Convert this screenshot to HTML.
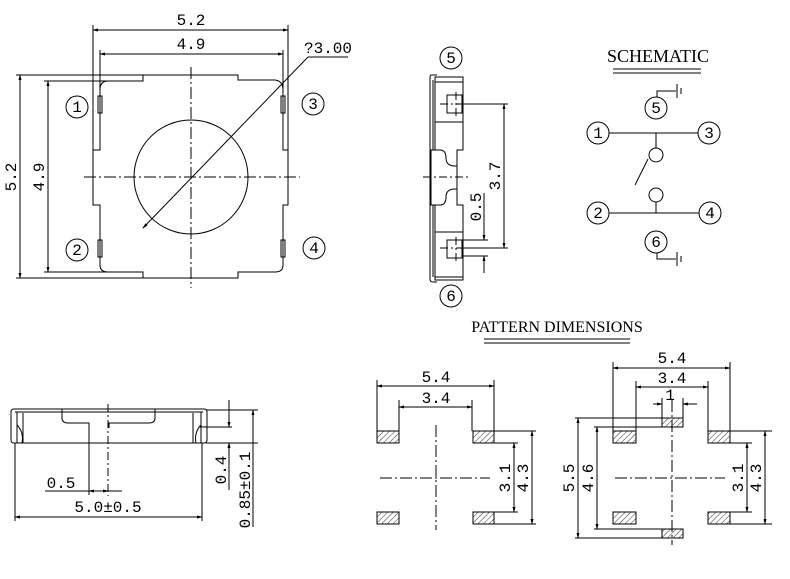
<!DOCTYPE html>
<html><head><meta charset="utf-8"><style>
html,body{margin:0;padding:0;background:#fff;}
svg{display:block;}
text{font-family:"Liberation Mono",monospace;font-size:16px;fill:#000;}
.t{font-family:"Liberation Serif",serif;font-size:15px;}
</style></head><body>
<svg width="790" height="579" viewBox="0 0 790 579" xmlns="http://www.w3.org/2000/svg">
<defs>
<pattern id="h" width="4" height="4" patternUnits="userSpaceOnUse" patternTransform="rotate(45)">
<line x1="0" y1="0" x2="0" y2="4" stroke="#000" stroke-width="0.8"/></pattern>
<marker id="a" markerWidth="6" markerHeight="4" refX="5" refY="2" orient="auto-start-reverse" markerUnits="userSpaceOnUse">
<path d="M0,0.5 L6,2 L0,3.5z" fill="#000"/></marker>
</defs>
<g fill="none" stroke="#000" stroke-width="1">
<path d="M143,75 H238 V80 H275 Q283,81 283,90 V150 H288 V205 H283 V265 Q283,272 275,272 H238 V278 H143 V272 H108 Q100,272 100,265 V205 H93 V150 H100 V90 Q100,81 108,81 H143 Z"/>
<rect x="98" y="96" width="4" height="17"/><rect x="281" y="96" width="4" height="17"/>
<rect x="98" y="240" width="4" height="17"/><rect x="281" y="240" width="4" height="17"/>
<circle cx="191" cy="177" r="57"/>
<g stroke-dasharray="12,3,2,3"><line x1="84" y1="177" x2="300" y2="177"/><line x1="191" y1="67" x2="191" y2="288"/></g>
<line x1="143" y1="228" x2="308" y2="57" marker-start="url(#a)"/><line x1="308" y1="57" x2="348" y2="57"/>
<line x1="93" y1="25" x2="93" y2="150"/><line x1="288" y1="25" x2="288" y2="150"/>
<line x1="93" y1="30" x2="288" y2="30" marker-start="url(#a)" marker-end="url(#a)"/>
<line x1="100" y1="50" x2="100" y2="150"/><line x1="283" y1="50" x2="283" y2="90"/>
<line x1="100" y1="54" x2="283" y2="54" marker-start="url(#a)" marker-end="url(#a)"/>
<line x1="16" y1="75" x2="143" y2="75"/><line x1="16" y1="278" x2="143" y2="278"/>
<line x1="20" y1="75" x2="20" y2="278" marker-start="url(#a)" marker-end="url(#a)"/>
<line x1="44" y1="81" x2="110" y2="81"/><line x1="44" y1="272" x2="110" y2="272"/>
<line x1="48" y1="81" x2="48" y2="272" marker-start="url(#a)" marker-end="url(#a)"/>
<circle cx="77" cy="107" r="11"/><circle cx="313" cy="104" r="11"/>
<circle cx="77" cy="250" r="11"/><circle cx="314" cy="248" r="11"/>
<path d="M437,75 H431 Q430,75 430,78 V279 Q430,282 433,282 H437"/>
<path d="M435,77 H463 V150 H457 V205 H463 V280 H435 Z"/>
<line x1="433" y1="80" x2="433" y2="277"/>
<line x1="435" y1="82" x2="463" y2="82"/><line x1="435" y1="122" x2="463" y2="122"/>
<line x1="435" y1="232" x2="463" y2="232"/><line x1="435" y1="277" x2="463" y2="277"/>
<path d="M431,150 H440 Q446,150 446,158 Q446,166 455,166 H457 V189 H455 Q446,189 446,197 Q446,205 440,205 H431 Z" fill="#fff"/>
<rect x="447" y="95" width="15" height="18"/><rect x="447" y="240" width="15" height="18"/>
<g stroke-dasharray="8,3,2,3"><line x1="423" y1="177" x2="470" y2="177"/><line x1="440" y1="104" x2="471" y2="104"/><line x1="440" y1="248" x2="471" y2="248"/><line x1="456" y1="92" x2="456" y2="116"/><line x1="456" y1="237" x2="456" y2="261"/></g>
<line x1="462" y1="104" x2="508" y2="104"/><line x1="462" y1="248" x2="508" y2="248"/>
<line x1="504" y1="104" x2="504" y2="248" marker-start="url(#a)" marker-end="url(#a)"/>
<line x1="462" y1="240" x2="488" y2="240"/><line x1="462" y1="256" x2="488" y2="256"/>
<line x1="484" y1="193" x2="484" y2="240" marker-end="url(#a)"/><line x1="484" y1="273" x2="484" y2="256" marker-end="url(#a)"/>
<circle cx="451" cy="58" r="11"/><circle cx="451" cy="296" r="11"/>
<line x1="613" y1="69" x2="701" y2="69"/><line x1="613" y1="73" x2="701" y2="73"/>
<circle cx="656" cy="108" r="11"/><path d="M657,97 V91 H676"/><line x1="677" y1="84" x2="677" y2="98"/><line x1="681" y1="88" x2="681" y2="94"/>
<circle cx="598" cy="133" r="11"/><circle cx="709" cy="133" r="11"/>
<line x1="609" y1="133" x2="698" y2="133"/><line x1="656" y1="133" x2="656" y2="148"/>
<circle cx="656" cy="155" r="7"/><line x1="648" y1="159" x2="635" y2="185"/>
<circle cx="656" cy="195" r="7"/><line x1="656" y1="202" x2="656" y2="213"/>
<line x1="609" y1="213" x2="699" y2="213"/>
<circle cx="598" cy="213" r="11"/><circle cx="710" cy="213" r="11"/>
<circle cx="656" cy="242" r="11"/><path d="M657,253 V259 H676"/><line x1="677" y1="252" x2="677" y2="266"/><line x1="681" y1="256" x2="681" y2="262"/>
<path d="M14,409 H204 Q207,409 207,412 V440 Q207,443 204,443 H14 Q11,443 11,440 V412 Q11,409 14,409 Z"/>
<line x1="15" y1="412" x2="203" y2="412"/><line x1="17" y1="443" x2="17" y2="412"/><line x1="201" y1="443" x2="201" y2="412"/>
<line x1="23" y1="413" x2="23" y2="443"/><line x1="193" y1="413" x2="193" y2="443"/>
<path d="M17,425 Q24,432 22,443"/><path d="M201,425 Q194,432 196,443"/>
<path d="M62,409 V418 Q62,423 68,423 H89 V495"/><path d="M155,409 V418 Q155,423 149,423 H109 V428"/>
<line x1="108" y1="404" x2="108" y2="496" stroke-dasharray="8,3,2,3"/>
<line x1="45" y1="491" x2="89" y2="491"/><line x1="89" y1="491" x2="122" y2="491" marker-start="url(#a)"/><line x1="108" y1="491" x2="89" y2="491" marker-start="url(#a)"/>
<line x1="15" y1="443" x2="15" y2="521"/><line x1="202" y1="443" x2="202" y2="521"/>
<line x1="15" y1="517" x2="202" y2="517" marker-start="url(#a)" marker-end="url(#a)"/>
<line x1="206" y1="410" x2="258" y2="410"/><line x1="200" y1="427" x2="232" y2="427"/><line x1="206" y1="443" x2="258" y2="443"/>
<line x1="229" y1="400" x2="229" y2="427" marker-end="url(#a)"/><line x1="229" y1="490" x2="229" y2="443" marker-end="url(#a)"/>
<line x1="253" y1="410" x2="253" y2="527" marker-start="url(#a)"/>
<line x1="484" y1="339" x2="630" y2="339"/><line x1="484" y1="343" x2="630" y2="343"/>
<g fill="url(#h)">
<rect x="377" y="431" width="22" height="12"/><rect x="473" y="431" width="21" height="12"/>
<rect x="377" y="512" width="22" height="12"/><rect x="473" y="512" width="21" height="12"/>
<rect x="613" y="431" width="23" height="12"/><rect x="708" y="431" width="22" height="12"/>
<rect x="613" y="512" width="23" height="12"/><rect x="708" y="512" width="22" height="12"/>
<rect x="662" y="418" width="21" height="9"/><rect x="662" y="529" width="21" height="9"/>
</g>
<g stroke-dasharray="12,3,2,3"><line x1="436" y1="425" x2="436" y2="530"/><line x1="380" y1="478" x2="490" y2="478"/><line x1="672" y1="400" x2="672" y2="545"/><line x1="615" y1="478" x2="725" y2="478"/></g>
<line x1="377" y1="380" x2="377" y2="431"/><line x1="494" y1="380" x2="494" y2="431"/>
<line x1="377" y1="386" x2="494" y2="386" marker-start="url(#a)" marker-end="url(#a)"/>
<line x1="399" y1="400" x2="399" y2="431"/><line x1="472" y1="400" x2="472" y2="431"/>
<line x1="399" y1="407" x2="472" y2="407" marker-start="url(#a)" marker-end="url(#a)"/>
<line x1="494" y1="431" x2="536" y2="431"/><line x1="494" y1="443" x2="518" y2="443"/><line x1="494" y1="512" x2="518" y2="512"/><line x1="494" y1="524" x2="536" y2="524"/>
<line x1="514" y1="443" x2="514" y2="512" marker-start="url(#a)" marker-end="url(#a)"/>
<line x1="532" y1="431" x2="532" y2="524" marker-start="url(#a)" marker-end="url(#a)"/>
<line x1="613" y1="362" x2="613" y2="431"/><line x1="730" y1="362" x2="730" y2="431"/>
<line x1="613" y1="368" x2="730" y2="368" marker-start="url(#a)" marker-end="url(#a)"/>
<line x1="636" y1="381" x2="636" y2="431"/><line x1="708" y1="381" x2="708" y2="431"/>
<line x1="636" y1="387" x2="708" y2="387" marker-start="url(#a)" marker-end="url(#a)"/>
<line x1="662" y1="398" x2="662" y2="418"/><line x1="683" y1="398" x2="683" y2="418"/>
<line x1="653" y1="404" x2="662" y2="404" marker-end="url(#a)"/><line x1="697" y1="404" x2="683" y2="404" marker-end="url(#a)"/>
<line x1="575" y1="418" x2="662" y2="418"/><line x1="575" y1="538" x2="662" y2="538"/>
<line x1="578" y1="418" x2="578" y2="538" marker-start="url(#a)" marker-end="url(#a)"/>
<line x1="594" y1="427" x2="662" y2="427"/><line x1="594" y1="529" x2="662" y2="529"/>
<line x1="597" y1="427" x2="597" y2="529" marker-start="url(#a)" marker-end="url(#a)"/>
<line x1="730" y1="431" x2="772" y2="431"/><line x1="730" y1="443" x2="752" y2="443"/><line x1="730" y1="512" x2="752" y2="512"/><line x1="730" y1="524" x2="772" y2="524"/>
<line x1="747" y1="443" x2="747" y2="512" marker-start="url(#a)" marker-end="url(#a)"/>
<line x1="765" y1="431" x2="765" y2="524" marker-start="url(#a)" marker-end="url(#a)"/>
</g>
<g text-anchor="middle">
<text x="191" y="25">5.2</text><text x="191" y="49">4.9</text>
<text x="328" y="53">?3.00</text>
<text transform="translate(16,177) rotate(-90)">5.2</text>
<text transform="translate(44,177) rotate(-90)">4.9</text>
<text x="77" y="112">1</text><text x="313" y="109">3</text><text x="77" y="255">2</text><text x="314" y="253">4</text>
<text x="451" y="63">5</text><text x="451" y="301">6</text>
<text transform="translate(500,176) rotate(-90)">3.7</text>
<text transform="translate(481,207) rotate(-90)">0.5</text>
<text class="t" x="658" y="62" style="font-size:18px">SCHEMATIC</text>
<text x="656" y="113">5</text><text x="598" y="138">1</text><text x="709" y="138">3</text>
<text x="598" y="218">2</text><text x="710" y="218">4</text><text x="656" y="247">6</text>
<text x="61" y="488">0.5</text><text x="108" y="512">5.0±0.5</text>
<text transform="translate(226,470) rotate(-90)">0.4</text>
<text transform="translate(250,490) rotate(-90)">0.85±0.1</text>
<text class="t" x="557" y="332" style="font-size:16px">PATTERN DIMENSIONS</text>
<text x="436" y="382">5.4</text><text x="436" y="403">3.4</text>
<text transform="translate(510,478) rotate(-90)">3.1</text><text transform="translate(528,478) rotate(-90)">4.3</text>
<text x="672" y="363">5.4</text><text x="672" y="383">3.4</text><text x="670" y="400">1</text>
<text transform="translate(574,478) rotate(-90)">5.5</text><text transform="translate(593,478) rotate(-90)">4.6</text>
<text transform="translate(743,478) rotate(-90)">3.1</text><text transform="translate(761,478) rotate(-90)">4.3</text>
</g>
</svg>
</body></html>
